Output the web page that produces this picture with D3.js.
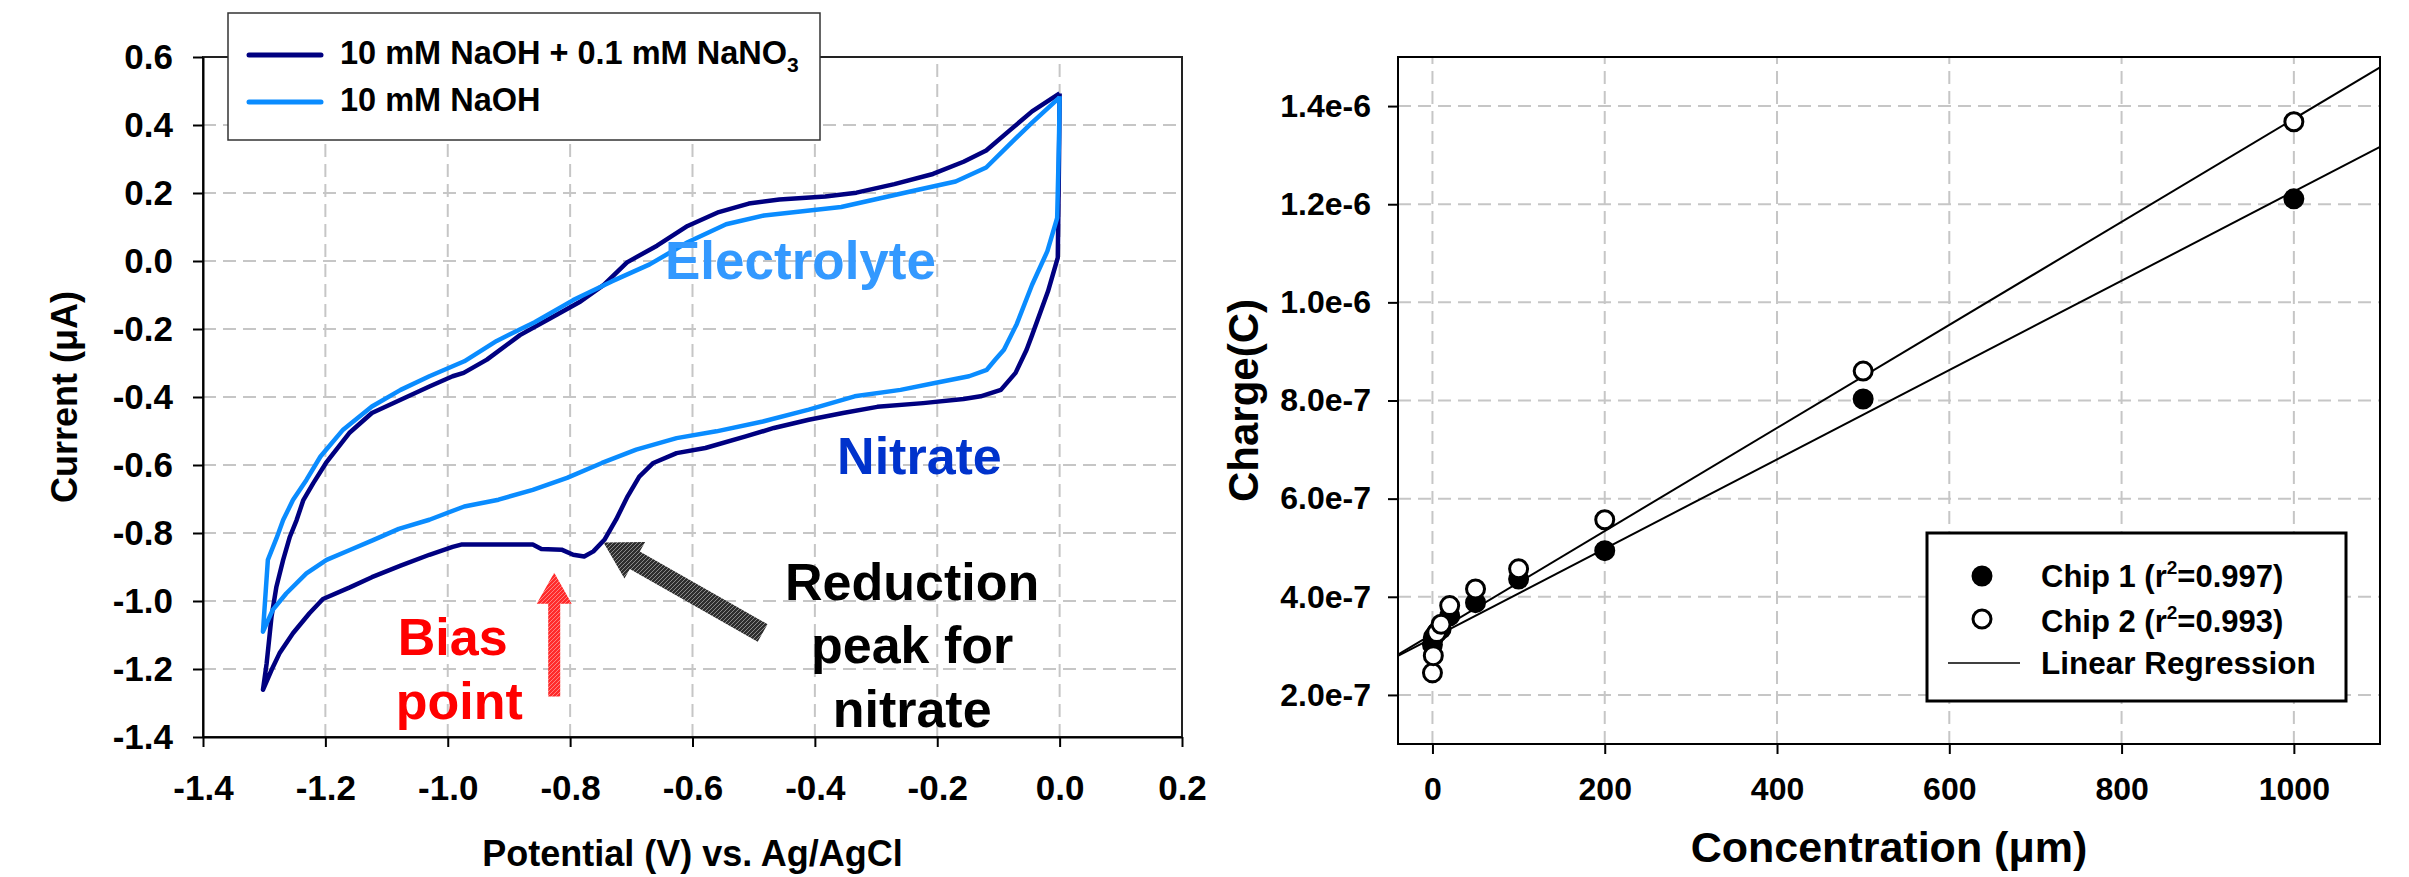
<!DOCTYPE html>
<html lang="en">
<head>
<meta charset="UTF-8">
<title>Nitrate reduction CV and charge calibration</title>
<script src="https://d3js.org/d3.v7.min.js"></script>
<style>
    body { margin: 0; background: #fff; }
    svg { display: block; font-family: "Liberation Sans", Arial, Helvetica, sans-serif; font-weight: bold; }
    .grid line { stroke: #c6c6c6; stroke-width: 2; stroke-dasharray: 13,7; }
    .axis path, .axis line { stroke: #000; stroke-width: 2; }
    .axis text { fill: #000; font-weight: bold; }
</style>
</head>
<body>
<svg id="chart" width="2409" height="877"></svg>
<script>
// ---------- left panel: cyclic voltammograms [potential V, current uA] ----------
const nitrateCV = [
    [0.0, 0.493], [-0.001, 0.30], [-0.003, 0.01], [-0.019, -0.089], [-0.045, -0.218],
    [-0.054, -0.261], [-0.072, -0.329], [-0.096, -0.379], [-0.129, -0.398], [-0.157, -0.406],
    [-0.223, -0.418], [-0.298, -0.429], [-0.354, -0.447], [-0.410, -0.467], [-0.467, -0.491],
    [-0.513, -0.516], [-0.579, -0.550], [-0.626, -0.565], [-0.664, -0.594], [-0.687, -0.634],
    [-0.706, -0.692], [-0.725, -0.761], [-0.744, -0.820], [-0.762, -0.854], [-0.777, -0.869],
    [-0.795, -0.864], [-0.814, -0.849], [-0.847, -0.847], [-0.861, -0.834], [-0.978, -0.834],
    [-0.992, -0.841], [-1.030, -0.864], [-1.077, -0.896], [-1.124, -0.930], [-1.160, -0.960],
    [-1.204, -0.994], [-1.226, -1.036], [-1.253, -1.095], [-1.275, -1.154], [-1.288, -1.203],
    [-1.302, -1.261],
    [-1.296, -1.184], [-1.288, -1.046], [-1.280, -0.958], [-1.269, -0.879], [-1.258, -0.811],
    [-1.247, -0.762], [-1.236, -0.703], [-1.220, -0.654], [-1.199, -0.594], [-1.161, -0.506],
    [-1.124, -0.447], [-1.077, -0.408], [-1.030, -0.369], [-0.992, -0.339], [-0.974, -0.329],
    [-0.936, -0.290], [-0.882, -0.218], [-0.833, -0.169], [-0.783, -0.119], [-0.745, -0.070],
    [-0.707, -0.004], [-0.658, 0.045], [-0.608, 0.103], [-0.557, 0.144], [-0.508, 0.169],
    [-0.458, 0.181], [-0.383, 0.190], [-0.332, 0.201], [-0.270, 0.226], [-0.207, 0.256],
    [-0.157, 0.292], [-0.120, 0.325], [-0.083, 0.382], [-0.045, 0.440], [0.0, 0.493]
];
const naohCV = [
    [0.0, 0.485], [-0.001, 0.358], [-0.004, 0.127], [-0.020, 0.029], [-0.045, -0.070],
    [-0.070, -0.185], [-0.091, -0.261], [-0.105, -0.290], [-0.119, -0.320], [-0.148, -0.339],
    [-0.204, -0.359], [-0.260, -0.379], [-0.335, -0.398], [-0.410, -0.437], [-0.485, -0.472],
    [-0.561, -0.501], [-0.626, -0.521], [-0.692, -0.555], [-0.748, -0.594], [-0.805, -0.638],
    [-0.861, -0.673], [-0.917, -0.702], [-0.973, -0.722], [-1.030, -0.761], [-1.080, -0.788],
    [-1.122, -0.821], [-1.160, -0.850], [-1.198, -0.879], [-1.231, -0.919], [-1.264, -0.978],
    [-1.286, -1.026], [-1.302, -1.090],
    [-1.294, -0.879], [-1.280, -0.816], [-1.269, -0.762], [-1.253, -0.703], [-1.231, -0.644],
    [-1.208, -0.575], [-1.171, -0.496], [-1.124, -0.428], [-1.077, -0.379], [-1.030, -0.339],
    [-0.973, -0.295], [-0.920, -0.235], [-0.858, -0.180], [-0.795, -0.115], [-0.732, -0.060],
    [-0.670, -0.010], [-0.608, 0.055], [-0.545, 0.108], [-0.483, 0.134], [-0.420, 0.146],
    [-0.357, 0.159], [-0.295, 0.184], [-0.233, 0.209], [-0.170, 0.234], [-0.120, 0.275],
    [-0.083, 0.341], [-0.045, 0.407], [0.0, 0.481]
];
const cvXTicks = [-1.4, -1.2, -1.0, -0.8, -0.6, -0.4, -0.2, 0.0, 0.2];
const cvYTicks = [-1.4, -1.2, -1.0, -0.8, -0.6, -0.4, -0.2, 0.0, 0.2, 0.4, 0.6];
const cvLegend = ["10 mM NaOH + 0.1 mM NaNO", "10 mM NaOH"];

// ---------- right panel: charge vs concentration ----------
const concentration = [0, 1, 5, 10, 20, 50, 100, 200, 500, 1000];
const chip1Charge = [3.03e-7, 3.17e-7, 3.27e-7, 3.34e-7, 3.61e-7, 3.88e-7, 4.36e-7, 4.94e-7, 8.03e-7, 1.211e-6];
const chip2Charge = [2.45e-7, 2.80e-7, 3.27e-7, 3.44e-7, 3.82e-7, 4.16e-7, 4.57e-7, 5.57e-7, 8.60e-7, 1.368e-6];
const chip1Fit = [3.16e-7, 9.1e-10];   // intercept, slope
const chip2Fit = [3.24e-7, 1.05e-9];
const concTicks = [0, 200, 400, 600, 800, 1000];
const chargeTicks = [2e-7, 4e-7, 6e-7, 8e-7, 1.0e-6, 1.2e-6, 1.4e-6];

const svg = d3.select("#chart");
svg.append("rect").attr("width", 2409).attr("height", 877).attr("fill", "#fff");

// hatch patterns for the annotation arrows
const defs = svg.append("defs");
function hatch(id, base, light) {
    const p = defs.append("pattern").attr("id", id).attr("patternUnits", "userSpaceOnUse")
        .attr("width", 4).attr("height", 4);
    p.append("rect").attr("width", 4).attr("height", 4).attr("fill", base);
    p.append("path").attr("d", "M0,4 L4,0").attr("stroke", light).attr("stroke-width", 1);
}
hatch("hatchRed", "#ff2b2b", "#ff8080");
hatch("hatchGray", "#2e2e2e", "#8a8a8a");

function arrowPath(x0, y0, x1, y1, shaft, headW, headL) {
    const len = Math.hypot(x1 - x0, y1 - y0);
    const ux = (x1 - x0) / len, uy = (y1 - y0) / len;
    const nx = -uy, ny = ux;
    const bx = x1 - ux * headL, by = y1 - uy * headL;
    const pts = [
        [x0 + nx * shaft / 2, y0 + ny * shaft / 2],
        [bx + nx * shaft / 2, by + ny * shaft / 2],
        [bx + nx * headW / 2, by + ny * headW / 2],
        [x1, y1],
        [bx - nx * headW / 2, by - ny * headW / 2],
        [bx - nx * shaft / 2, by - ny * shaft / 2],
        [x0 - nx * shaft / 2, y0 - ny * shaft / 2]
    ];
    return "M" + pts.map(p => p.join(",")).join("L") + "Z";
}

function cleanAxis(g, size) {
    g.attr("font-size", null).attr("font-family", null);
    g.selectAll("text").attr("font-size", size);
}

// ================= left panel =================
const xL = d3.scaleLinear().domain([-1.4, 0.2]).range([203, 1182]);
const yL = d3.scaleLinear().domain([-1.4, 0.6]).range([737, 57]);
const gL = svg.append("g");

gL.append("g").attr("class", "grid")
    .selectAll("line.v").data(cvXTicks.slice(1, -1)).join("line")
    .attr("x1", d => xL(d)).attr("x2", d => xL(d))
    .attr("y1", yL.range()[0]).attr("y2", yL.range()[1]);
gL.append("g").attr("class", "grid")
    .selectAll("line.h").data(cvYTicks.slice(1, -1)).join("line")
    .attr("y1", d => yL(d)).attr("y2", d => yL(d))
    .attr("x1", xL.range()[0]).attr("x2", xL.range()[1]);

gL.append("rect")
    .attr("x", xL.range()[0]).attr("y", yL.range()[1])
    .attr("width", xL.range()[1] - xL.range()[0]).attr("height", yL.range()[0] - yL.range()[1])
    .attr("fill", "none").attr("stroke", "#222").attr("stroke-width", 2);

gL.append("g").attr("class", "axis")
    .attr("transform", `translate(0,${yL.range()[0]})`)
    .call(d3.axisBottom(xL).tickValues(cvXTicks).tickFormat(d => d.toFixed(1))
        .tickSize(10).tickPadding(28).tickSizeOuter(0))
    .call(g => cleanAxis(g, 35));
gL.append("g").attr("class", "axis")
    .attr("transform", `translate(${xL.range()[0]},0)`)
    .call(d3.axisLeft(yL).tickValues(cvYTicks).tickFormat(d => d.toFixed(1))
        .tickSize(10).tickPadding(20).tickSizeOuter(0))
    .call(g => cleanAxis(g, 35));

const cvLine = d3.line().x(d => xL(d[0])).y(d => yL(d[1]));
const cvColors = ["#000080", "#0a8cff"];
gL.append("path").datum(nitrateCV).attr("d", cvLine)
    .attr("fill", "none").attr("stroke", cvColors[0]).attr("stroke-width", 4.5).attr("stroke-linejoin", "round");
gL.append("path").datum(naohCV).attr("d", cvLine)
    .attr("fill", "none").attr("stroke", cvColors[1]).attr("stroke-width", 4.5).attr("stroke-linejoin", "round");

// legend
const legL = gL.append("g");
legL.append("rect").attr("x", 228).attr("y", 13).attr("width", 592).attr("height", 127)
    .attr("fill", "#fff").attr("stroke", "#333").attr("stroke-width", 1.5);
cvLegend.forEach((label, i) => {
    const cy = 55 + i * 47;
    legL.append("line").attr("x1", 249).attr("x2", 321).attr("y1", cy).attr("y2", cy)
        .attr("stroke", cvColors[i]).attr("stroke-width", 5).attr("stroke-linecap", "round");
    const t = legL.append("text").attr("x", 340).attr("y", cy + 9).attr("font-size", 32.5).text(label);
    if (i === 0) t.append("tspan").attr("font-size", 21).attr("dy", 8).text("3");
});

// annotations
gL.append("text").attr("x", xL(-0.645)).attr("y", yL(-0.0535))
    .attr("font-size", 53).attr("fill", "#3399ff").text("Electrolyte");
gL.append("text").attr("x", xL(-0.3637)).attr("y", yL(-0.6256))
    .attr("font-size", 52).attr("fill", "#0033cc").text("Nitrate");
gL.append("text").attr("x", xL(-1.0816)).attr("y", yL(-1.158))
    .attr("font-size", 52).attr("fill", "#ff0000").text("Bias");
gL.append("text").attr("x", xL(-1.085)).attr("y", yL(-1.346))
    .attr("font-size", 52).attr("fill", "#ff0000").text("point");
[["Reduction", -0.996], ["peak for", -1.181], ["nitrate", -1.370]].forEach(([s, v]) => {
    gL.append("text").attr("x", xL(-0.241)).attr("y", yL(v)).attr("text-anchor", "middle")
        .attr("font-size", 52).attr("fill", "#000").text(s);
});
gL.append("path")
    .attr("d", arrowPath(xL(-0.826), yL(-1.281), xL(-0.826), yL(-0.917), 12, 35, 31))
    .attr("fill", "url(#hatchRed)");
gL.append("path")
    .attr("d", arrowPath(xL(-0.4854), yL(-1.094), xL(-0.7454), yL(-0.8276), 20, 42, 36))
    .attr("fill", "url(#hatchGray)");

gL.append("text").attr("transform", `translate(77,${(yL.range()[0] + yL.range()[1]) / 2}) rotate(-90)`)
    .attr("text-anchor", "middle").attr("font-size", 36).text("Current (μA)");
gL.append("text").attr("x", (xL.range()[0] + xL.range()[1]) / 2).attr("y", 866)
    .attr("text-anchor", "middle").attr("font-size", 36).text("Potential (V) vs. Ag/AgCl");

// ================= right panel =================
const xR = d3.scaleLinear().domain([-40, 1100]).range([1398, 2380]);
const yR = d3.scaleLinear().domain([1e-7, 1.5e-6]).range([744, 57]);
const gR = svg.append("g");

gR.append("g").attr("class", "grid")
    .selectAll("line").data(concTicks).join("line")
    .attr("x1", d => xR(d)).attr("x2", d => xR(d))
    .attr("y1", yR.range()[0]).attr("y2", yR.range()[1]);
gR.append("g").attr("class", "grid")
    .selectAll("line").data(chargeTicks).join("line")
    .attr("y1", d => yR(d)).attr("y2", d => yR(d))
    .attr("x1", xR.range()[0]).attr("x2", xR.range()[1]);

const fitLine = f => [xR.domain()[0], xR.domain()[1]].map(c => [c, f[0] + f[1] * c]);
[chip1Fit, chip2Fit].forEach(f => {
    gR.append("path").datum(fitLine(f))
        .attr("d", d3.line().x(d => xR(d[0])).y(d => yR(d[1])))
        .attr("stroke", "#000").attr("stroke-width", 2).attr("fill", "none");
});

gR.append("g").selectAll("circle").data(concentration).join("circle")
    .attr("cx", d => xR(d)).attr("cy", (d, i) => yR(chip1Charge[i])).attr("r", 9)
    .attr("fill", "#000").attr("stroke", "#000").attr("stroke-width", 3);
gR.append("g").selectAll("circle").data(concentration).join("circle")
    .attr("cx", d => xR(d)).attr("cy", (d, i) => yR(chip2Charge[i])).attr("r", 9)
    .attr("fill", "#fff").attr("stroke", "#000").attr("stroke-width", 3);

gR.append("rect")
    .attr("x", xR.range()[0]).attr("y", yR.range()[1])
    .attr("width", xR.range()[1] - xR.range()[0]).attr("height", yR.range()[0] - yR.range()[1])
    .attr("fill", "none").attr("stroke", "#000").attr("stroke-width", 2);

gR.append("g").attr("class", "axis")
    .attr("transform", `translate(0,${yR.range()[0]})`)
    .call(d3.axisBottom(xR).tickValues(concTicks).tickFormat(d3.format("d"))
        .tickSize(10).tickPadding(23).tickSizeOuter(0))
    .call(g => g.select(".domain").remove())
    .call(g => cleanAxis(g, 32));
gR.append("g").attr("class", "axis")
    .attr("transform", `translate(${xR.range()[0]},0)`)
    .call(d3.axisLeft(yR).tickValues(chargeTicks).tickFormat(d => d.toExponential(1))
        .tickSize(10).tickPadding(17).tickSizeOuter(0))
    .call(g => g.select(".domain").remove())
    .call(g => cleanAxis(g, 32));

// legend
const legR = gR.append("g");
legR.append("rect").attr("x", 1927).attr("y", 533).attr("width", 419).attr("height", 168)
    .attr("fill", "#fff").attr("stroke", "#000").attr("stroke-width", 3);
legR.append("circle").attr("cx", 1982).attr("cy", 576).attr("r", 9)
    .attr("fill", "#000").attr("stroke", "#000").attr("stroke-width", 3);
legR.append("circle").attr("cx", 1982).attr("cy", 619).attr("r", 9)
    .attr("fill", "#fff").attr("stroke", "#000").attr("stroke-width", 3);
legR.append("line").attr("x1", 1948).attr("x2", 2020).attr("y1", 663).attr("y2", 663)
    .attr("stroke", "#000").attr("stroke-width", 1.5);
[["Chip 1 (r", "=0.997)", 587], ["Chip 2 (r", "=0.993)", 632]].forEach(([a, b, y]) => {
    const t = legR.append("text").attr("x", 2041).attr("y", y).attr("font-size", 31).text(a);
    t.append("tspan").attr("font-size", 19).attr("dy", -13).text("2");
    t.append("tspan").attr("dy", 13).text(b);
});
legR.append("text").attr("x", 2041).attr("y", 674).attr("font-size", 31.5).text("Linear Regression");

gR.append("text").attr("transform", `translate(1258,${(yR.range()[0] + yR.range()[1]) / 2}) rotate(-90)`)
    .attr("text-anchor", "middle").attr("font-size", 42).text("Charge(C)");
gR.append("text").attr("x", (xR.range()[0] + xR.range()[1]) / 2).attr("y", 862)
    .attr("text-anchor", "middle").attr("font-size", 43).text("Concentration (μm)");
</script>
</body>
</html>
